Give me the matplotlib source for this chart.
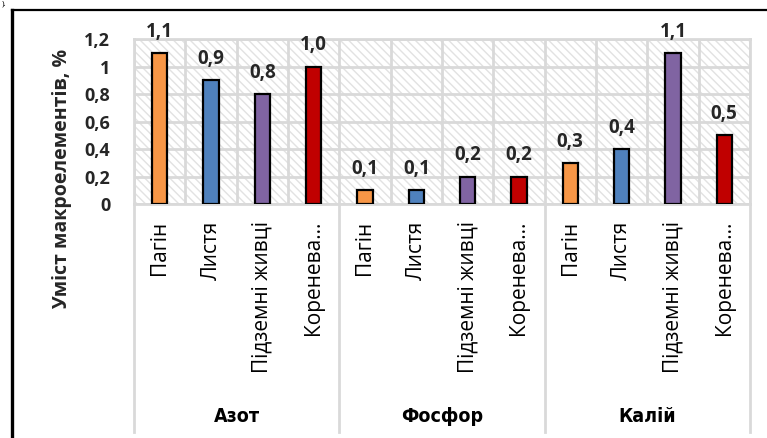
import matplotlib
matplotlib.use('Agg')
import matplotlib.pyplot as plt
from matplotlib.lines import Line2D
from matplotlib.patches import Rectangle
from matplotlib.ticker import FixedLocator

# ------------------------------------------------------------------
# Data
# ------------------------------------------------------------------
groups = ['Азот', 'Фосфор', 'Калій']
organs = ['Пагін', 'Листя', 'Підземні живці', 'Коренева…']
colors = ['#F79646', '#4F81BD', '#8064A2', '#C00000']

nitrogen = [1.1, 0.9, 0.8, 1.0]
phosphorus = [0.1, 0.1, 0.2, 0.2]
potassium = [0.3, 0.4, 1.1, 0.5]

y_ticks = [0, 0.2, 0.4, 0.6, 0.8, 1.0, 1.2]
y_tick_labels = ['0', '0,2', '0,4', '0,6', '0,8', '1', '1,2']
y_label = 'Уміст макроелементів, %'

FONT = ['Open Sans', 'DejaVu Sans']
GRID = '#D9D9D9'

plt.rcParams['font.family'] = FONT
plt.rcParams['hatch.linewidth'] = 1.0

fig = plt.figure(figsize=(7.67, 4.38), dpi=100)
ax = fig.add_axes([0.1747, 0.5342, 0.8031, 0.3767])

series = [nitrogen, phosphorus, potassium]
n_org = len(organs)

# hatched plot background
ax.add_patch(Rectangle((0, 0), 1, 1, transform=ax.transAxes,
                       facecolor='white', edgecolor='#E2E2E2',
                       hatch='\\\\\\\\', linewidth=0, zorder=0))

for g, values in enumerate(series):
    for i, v in enumerate(values):
        x = g * n_org + i
        ax.bar(x, v, width=0.3, color=colors[i], edgecolor='black',
               linewidth=1.6, zorder=3)
        ax.annotate(f'{v:.1f}'.replace('.', ','), (x, v),
                    xytext=(0, 8), textcoords='offset points',
                    ha='center', va='bottom', fontsize=13.5,
                    fontweight='bold', color='#262626')

n_cat = n_org * len(groups)
ax.set_xlim(-0.5, n_cat - 0.5)
ax.set_ylim(0, 1.2)

ax.set_yticks(y_ticks)
ax.set_yticklabels(y_tick_labels, fontsize=13, fontweight='bold',
                   color='#262626')
ax.set_xticks(range(n_cat))
ax.set_xticklabels(organs * len(groups), rotation=90, fontsize=15,
                   va='top', color='#000000')
ax.xaxis.set_minor_locator(FixedLocator([k - 0.5 for k in range(n_cat + 1)]))
ax.tick_params(axis='both', which='both', length=0)
ax.tick_params(axis='y', pad=17)
ax.tick_params(axis='x', pad=12)

ax.grid(True, axis='y', which='major', color=GRID, linewidth=2, zorder=1)
ax.grid(True, axis='x', which='minor', color=GRID, linewidth=2, zorder=1)
ax.grid(False, axis='x', which='major')
ax.set_axisbelow(True)
for spine in ax.spines.values():
    spine.set_color(GRID)
    spine.set_linewidth(2)

ax.set_ylabel(y_label, fontsize=14, fontweight='bold', color='#262626')
ax.yaxis.set_label_coords(-0.1, 0.15)

# group labels and separators under the axis
for g, name in enumerate(groups):
    xc = (g * n_org + (n_org - 1) / 2 + 0.5) / n_cat
    ax.text(xc, -1.29, name, transform=ax.transAxes, ha='center',
            va='center', fontsize=14, fontweight='bold',
            family='DejaVu Sans', fontstretch='condensed')
for g in range(len(groups) + 1):
    xs = g * n_org / n_cat
    ax.add_line(Line2D([xs, xs], [0, -1.38], transform=ax.transAxes,
                       color=GRID, linewidth=2, clip_on=False))

# outer frame of the chart
fig.add_artist(Line2D([12 / 767, 12 / 767], [0, 1 - 10 / 438],
                      transform=fig.transFigure, color='black', linewidth=2.4))
fig.add_artist(Line2D([12 / 767, 1], [1 - 10 / 438, 1 - 10 / 438],
                      transform=fig.transFigure, color='black', linewidth=1.6))
fig.text(0.002, 0.999, ').', fontsize=6, va='top', ha='left')

fig.savefig('out.png', dpi=100)
